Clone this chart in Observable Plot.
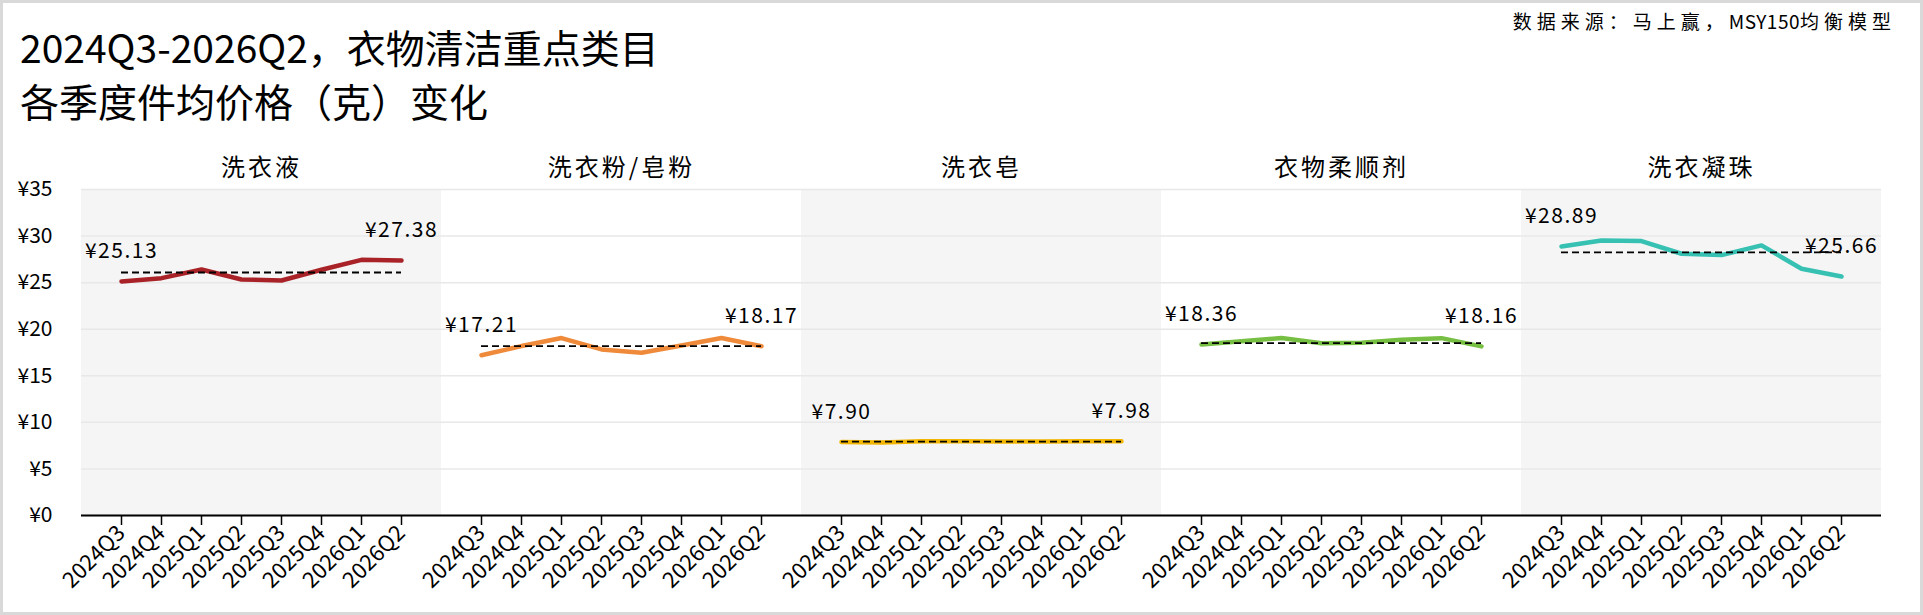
<!DOCTYPE html>
<html>
<head>
<meta charset="utf-8">
<script src="https://cdn.jsdelivr.net/npm/d3@7"></script>
<script src="https://cdn.jsdelivr.net/npm/@observablehq/plot@0.6"></script>
<style>
  body { margin: 0; background: #fff; }
  #wrap { position: relative; width: 1923px; height: 615px; overflow: hidden; background: #fff;
          font-family: "Noto Sans CJK SC", "Noto Sans", sans-serif; color: #000; }
  #title { position: absolute; left: 20px; top: 19px; font-size: 39px; line-height: 54px; font-weight: 400; z-index: 2; }
  #source { position: absolute; right: 27px; top: 7px; font-size: 19px; letter-spacing: 5px; z-index: 2; }
  #source .lat { letter-spacing: 0.5px; font-size: 19px; }
  #chart { position: absolute; left: 0; top: 120px; z-index: 1; }
  #border { position: absolute; inset: 0; border: 3px solid #d9d9d9; pointer-events: none; z-index: 3; }
</style>
</head>
<body>
<div id="wrap">
  <div id="title">2024Q3-2026Q2，衣物清洁重点类目<br>各季度件均价格（克）变化</div>
  <div id="source">数据来源：马上赢，<span class="lat">MSY150</span>均衡模型</div>
  <div id="chart"></div>
  <div id="border"></div>
</div>
<script>
// ---- data ----
const categories = ["洗衣液", "洗衣粉/皂粉", "洗衣皂", "衣物柔顺剂", "洗衣凝珠"];
const quarters = ["2024Q3", "2024Q4", "2025Q1", "2025Q2", "2025Q3", "2025Q4", "2026Q1", "2026Q2"];
const liquid    = [25.13, 25.48, 26.41, 25.34, 25.23, 26.38, 27.45, 27.38];
const powder    = [17.21, 18.19, 19.05, 17.83, 17.47, 18.26, 19.05, 18.17];
const soap      = [7.90, 7.85, 7.96, 7.97, 7.95, 7.95, 7.96, 7.98];
const softener  = [18.36, 18.72, 19.05, 18.50, 18.54, 18.86, 19.04, 18.16];
const pods      = [28.89, 29.53, 29.46, 28.10, 27.96, 29.00, 26.49, 25.66];
const averages  = [26.09, 18.18, 7.94, 18.50, 28.24];
const yTicks    = [0, 5, 10, 15, 20, 25, 30, 35];

// ---- styles ----
const palette = ["#a82227", "#ef8a3a", "#f3b600", "#76bf42", "#36c1b3"];
const panelFill = ["#f5f5f5", "#ffffff"];

const series = [liquid, powder, soap, softener, pods];
const rows = categories.flatMap((c, ci) =>
  quarters.map((q, qi) => ({cat: c, ci, quarter: q, qi, value: series[ci][qi]})));
const avgRows = categories.map((c, ci) => ({cat: c, ci, avg: averages[ci]}));
const labelRows = rows.filter(d => d.qi === 0 || d.qi === quarters.length - 1);

const chart = Plot.plot({
  width: 1923,
  height: 495,
  marginLeft: 81,
  marginRight: 42,
  marginTop: 69,
  marginBottom: 100,
  style: {fontFamily: '"Noto Sans CJK SC", "Noto Sans", sans-serif', fontSize: "21px", color: "#000", background: "transparent"},
  fx: {domain: categories, padding: 0, label: null},
  x: {type: "point", domain: quarters, padding: 1, label: null},
  y: {domain: [0, 35], label: null},
  color: {type: "identity"},
  marks: [
    Plot.barY(categories, {fx: d => d, y1: () => 0, y2: () => 35, fill: (d, i) => panelFill[i % 2]}),
    Plot.gridY(yTicks, {stroke: "#e8e8e8", strokeOpacity: 1, strokeWidth: 1.5}),
    Plot.ruleY([0], {stroke: "#000", strokeWidth: 2.2}),
    Plot.line(rows, {fx: "cat", x: "quarter", y: "value", stroke: d => palette[d.ci], strokeWidth: 4.5,
                     strokeLinecap: "round", strokeLinejoin: "round"}),
    Plot.ruleY(avgRows, {fx: "cat", y: "avg", x1: () => quarters[0], x2: () => quarters[quarters.length - 1],
                         stroke: "#000", strokeWidth: 1.8, strokeDasharray: "7,4"}),
    Plot.text(labelRows, {fx: "cat", x: "quarter", y: "value", text: d => "¥" + d.value.toFixed(2),
                          dy: -30, fontSize: 21, fill: "#000", className: "vlabel"}),
    Plot.axisFx({anchor: "top", tickSize: 0, tickPadding: 14, label: null, fontSize: 24}),
    Plot.axisX({tickRotate: -45, tickSize: 10, tickPadding: 4, label: null, fontSize: 22, strokeWidth: 1.5}),
    Plot.axisY({ticks: yTicks, tickSize: 0, tickPadding: 29, tickFormat: d => "¥" + d, label: null, fontSize: 21})
  ]
});
d3.select(chart).selectAll('[aria-label="fx-axis tick label"] text').attr("letter-spacing", "3px");
d3.select(chart).selectAll('.vlabel text').attr("letter-spacing", "1.5px");
document.getElementById("chart").appendChild(chart);
</script>
</body>
</html>
